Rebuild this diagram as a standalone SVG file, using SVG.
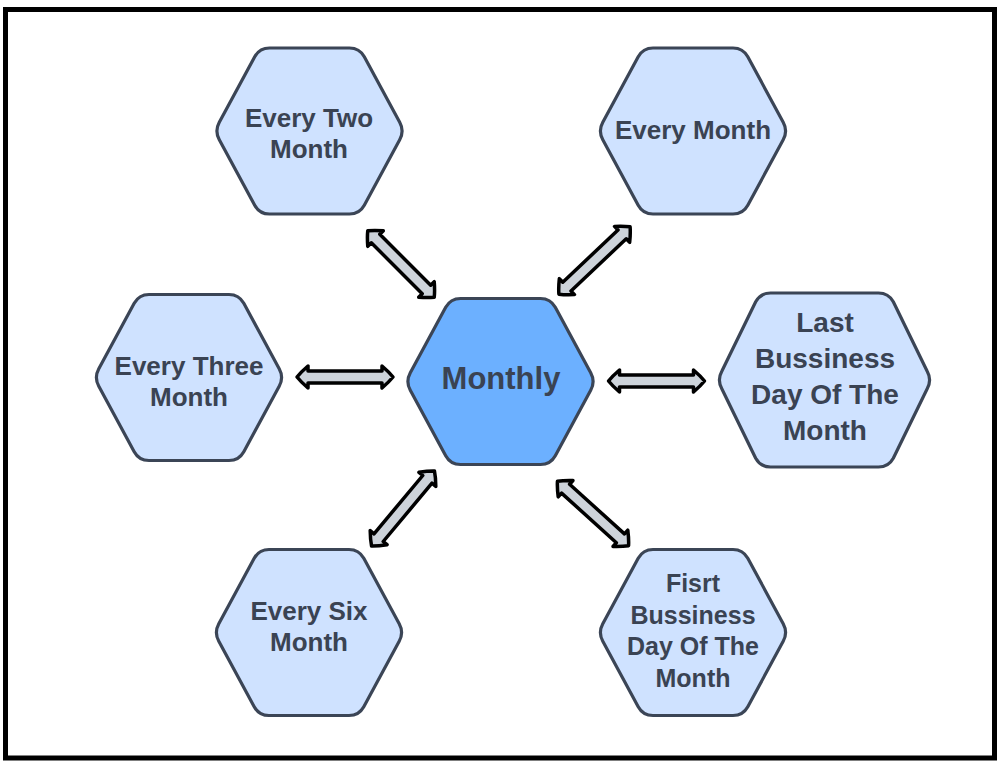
<svg xmlns="http://www.w3.org/2000/svg" xmlns:xlink="http://www.w3.org/1999/xlink" width="1000" height="763" viewBox="0 0 1000 763">
<style>
.hex{fill:#cfe2ff;stroke:#3b4556;stroke-width:3.2;stroke-linejoin:round}
.main{fill:#6cb0ff}
.t{font-family:"Liberation Sans",Arial,sans-serif;font-weight:bold;fill:#3a4353;text-anchor:middle;font-size:26px}
.arr{fill:#cdd3da;stroke:#000;stroke-width:3.5;stroke-linejoin:round}
</style>
<defs>
<path id="hex" d="M -40,-83 L 40,-83 Q 50,-83 54.8,-74.2 L 90.2,-8.8 Q 95,0 90.2,8.8 L 54.8,74.2 Q 50,83 40,83 L -40,83 Q -50,83 -54.8,74.2 L -90.2,8.8 Q -95,0 -90.2,-8.8 L -54.8,-74.2 Q -50,-83 -40,-83 Z"/>
</defs>
<rect x="0" y="0" width="1000" height="763" fill="#fff"/>
<rect x="5.5" y="9.5" width="989" height="748.5" fill="#fff" stroke="#000" stroke-width="5"/>
<g id="connectors">
<path class="arr" transform="translate(401,264) rotate(45)" d="M -47,0 Q -43,-5 -36,-11 L -36,-6 L 36,-6 L 36,-11 Q 43,-5 47,0 Q 43,5 36,11 L 36,6 L -36,6 L -36,11 Q -43,5 -47,0 Z"/>
<path class="arr" transform="translate(594.5,260.5) rotate(-43.4)" d="M -49,0 Q -45,-5 -38,-11 L -38,-6 L 38,-6 L 38,-11 Q 45,-5 49,0 Q 45,5 38,11 L 38,6 L -38,6 L -38,11 Q -45,5 -49,0 Z"/>
<path class="arr" transform="translate(345,377)" d="M -48,0 Q -44,-5 -37,-11 L -37,-6 L 37,-6 L 37,-11 Q 44,-5 48,0 Q 44,5 37,11 L 37,6 L -37,6 L -37,11 Q -44,5 -48,0 Z"/>
<path class="arr" transform="translate(656.5,381)" d="M -48,0 Q -44,-5 -37,-11 L -37,-6 L 37,-6 L 37,-11 Q 44,-5 48,0 Q 44,5 37,11 L 37,6 L -37,6 L -37,11 Q -44,5 -48,0 Z"/>
<path class="arr" transform="translate(403,508.5) rotate(129.9)" d="M -49,0 Q -45,-5 -38,-11 L -38,-6 L 38,-6 L 38,-11 Q 45,-5 49,0 Q 45,5 38,11 L 38,6 L -38,6 L -38,11 Q -45,5 -49,0 Z"/>
<path class="arr" transform="translate(593,513.5) rotate(42.2)" d="M -48,0 Q -44,-5 -37,-11 L -37,-6 L 37,-6 L 37,-11 Q 44,-5 48,0 Q 44,5 37,11 L 37,6 L -37,6 L -37,11 Q -44,5 -48,0 Z"/>
</g>
<g id="monthly">
<use xlink:href="#hex" class="hex main" x="500.5" y="381.5"/>
<text class="t" x="501" y="389" style="font-size:31px">Monthly</text>
</g>
<g id="every-two-month">
<use xlink:href="#hex" class="hex" x="309.5" y="131"/>
<text class="t" x="309" y="127">Every Two</text>
<text class="t" x="309" y="158">Month</text>
</g>
<g id="every-month">
<use xlink:href="#hex" class="hex" x="693" y="131"/>
<text class="t" x="693" y="139">Every Month</text>
</g>
<g id="every-three-month">
<use xlink:href="#hex" class="hex" x="189" y="377.5"/>
<text class="t" x="189" y="375">Every Three</text>
<text class="t" x="189" y="406">Month</text>
</g>
<g id="last-business-day">
<path class="hex" d="M 770.5,293 L 878.5,293 Q 888.5,293 893.3,301.8 L 927.2,371.2 Q 932,380 927.2,388.8 L 893.3,458.2 Q 888.5,467 878.5,467 L 770.5,467 Q 760.5,467 755.7,458.2 L 721.8,388.8 Q 717,380 721.8,371.2 L 755.7,301.8 Q 760.5,293 770.5,293 Z"/>
<text class="t" x="825" y="332" style="font-size:28px">Last</text>
<text class="t" x="825" y="368" style="font-size:28px">Bussiness</text>
<text class="t" x="825" y="404" style="font-size:28px">Day Of The</text>
<text class="t" x="825" y="440" style="font-size:28px">Month</text>
</g>
<g id="every-six-month">
<use xlink:href="#hex" class="hex" x="309" y="632.5"/>
<text class="t" x="309" y="620">Every Six</text>
<text class="t" x="309" y="651">Month</text>
</g>
<g id="first-business-day">
<use xlink:href="#hex" class="hex" x="693" y="632.5"/>
<text class="t" x="693" y="592" style="font-size:25px">Fisrt</text>
<text class="t" x="693" y="623.5" style="font-size:25px">Bussiness</text>
<text class="t" x="693" y="655" style="font-size:25px">Day Of The</text>
<text class="t" x="693" y="686.5" style="font-size:25px">Month</text>
</g>
</svg>
